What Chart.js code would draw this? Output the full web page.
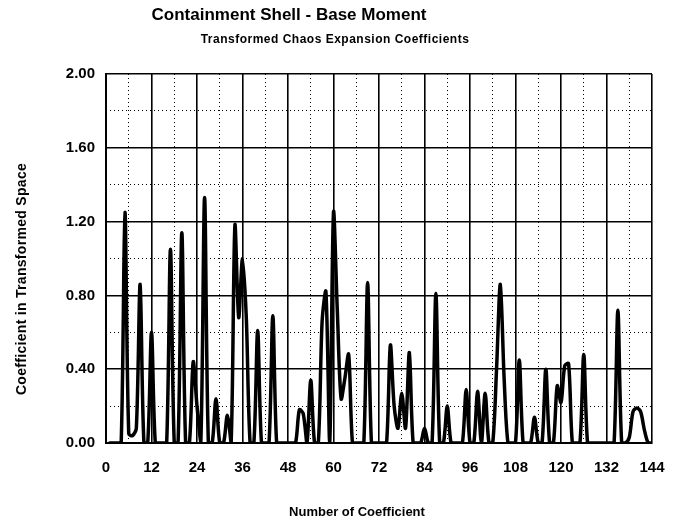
<!DOCTYPE html>
<html>
<head>
<meta charset="utf-8">
<title>Containment Shell - Base Moment</title>
<script src="https://cdn.jsdelivr.net/npm/chart.js@4.4.1/dist/chart.umd.min.js"></script>
<style>
    html, body { margin: 0; padding: 0; background: #fff; }
    #wrap { position: relative; width: 683px; height: 523px; }
</style>
</head>
<body>
<div id="wrap"><canvas id="chart"></canvas></div>
<script>
// ============================================
// DATA
// ============================================

const TITLE = 'Containment Shell - Base Moment';
const SUBTITLE = 'Transformed Chaos Expansion Coefficients';
const X_TITLE = 'Number of Coefficient';
const Y_TITLE = 'Coefficient in Transformed Space';

// coefficient number (x)
const coefNumbers = [
    1, 2, 3, 4, 5, 6, 7, 8, 9, 10, 11, 12,
    13, 14, 15, 16, 17, 18, 19, 20, 21, 22, 23, 24,
    25, 26, 27, 28, 29, 30, 31, 32, 33, 34, 35, 36,
    37, 38, 39, 40, 41, 42, 43, 44, 45, 46, 47, 48,
    49, 50, 51, 52, 53, 54, 55, 56, 57, 58, 59, 60,
    61, 62, 63, 64, 65, 66, 67, 68, 69, 70, 71, 72,
    73, 74, 75, 76, 77, 78, 79, 80, 81, 82, 83, 84,
    85, 86, 87, 88, 89, 90, 91, 92, 93, 94, 95, 96,
    97, 98, 99, 100, 101, 102, 103, 104, 105, 106, 107, 108,
    109, 110, 111, 112, 113, 114, 115, 116, 117, 118, 119, 120,
    121, 122, 123, 124, 125, 126, 127, 128, 129, 130, 131, 132,
    133, 134, 135, 136, 137, 138, 139, 140, 141, 142, 143, 144
];

// coefficient value in transformed space (y)
const coefValues = [
    0, 0, 0, 0, 1.25, 0.05, 0.04, 0.08, 0.86, 0, 0, 0.60,
    0, 0, 0, 0, 1.05, 0, 0, 1.14, 0, 0, 0.44, 0.20,
    0, 1.33, 0, 0, 0.24, 0, 0, 0.15, 0, 1.18, 0.68, 1.00,
    0.68, 0, 0, 0.61, 0, 0, 0, 0.69, 0, 0, 0, 0,
    0, 0, 0.18, 0.16, 0, 0.34, 0, 0, 0.66, 0.82, 0, 1.25,
    0.72, 0.24, 0.35, 0.48, 0, 0, 0, 0, 0.87, 0, 0, 0,
    0, 0, 0.53, 0.20, 0.08, 0.27, 0.08, 0.49, 0, 0, 0, 0.08,
    0, 0, 0.81, 0, 0, 0.20, 0, 0, 0, 0, 0.29, 0,
    0, 0.28, 0, 0.27, 0, 0, 0.40, 0.86, 0.35, 0, 0, 0,
    0.45, 0, 0, 0, 0.14, 0, 0, 0.40, 0, 0, 0.31, 0.22,
    0.42, 0.43, 0, 0, 0, 0.48, 0, 0, 0, 0, 0, 0,
    0, 0, 0.72, 0, 0, 0.03, 0.17, 0.19, 0.17, 0.07, 0, 0
];

// axis ranges / ticks
const X_MIN = 0, X_MAX = 144, X_MAJOR = 12, X_MINOR = 6;
const Y_MIN = 0, Y_MAX = 2, Y_MAJOR = 0.4, Y_MINOR = 0.2;

// ============================================
// CHART
// ============================================

const FONT = '"Liberation Sans", Arial, Helvetica, sans-serif';
const INK = '#000';

// titles are placed where they sit in the scan, not where Chart.js would center them
const captions = {
    id: 'captions',
    afterDraw(chart) {
        const ctx = chart.ctx;
        ctx.save();
        ctx.fillStyle = INK;
        ctx.textAlign = 'center';
        ctx.textBaseline = 'middle';

        ctx.font = 'bold 17px ' + FONT;
        ctx.fillText(TITLE, 289, 15);

        ctx.font = 'bold 12px ' + FONT;
        ctx.letterSpacing = '0.5px';
        ctx.fillText(SUBTITLE, 335, 40);

        ctx.font = 'bold 13px ' + FONT;
        ctx.letterSpacing = '0px';
        ctx.fillText(X_TITLE, 357, 512);

        ctx.translate(22, 279);
        ctx.rotate(-Math.PI / 2);
        ctx.font = 'bold 14px ' + FONT;
        ctx.letterSpacing = '0.3px';
        ctx.fillText(Y_TITLE, 0, 0);
        ctx.restore();
    }
};

const points = coefNumbers.map((n, i) => ({ x: n, y: coefValues[i] }));

const hidden = 'rgba(0,0,0,0)';
const isMajor = (v, step) => Math.abs(v / step - Math.round(v / step)) < 1e-6;

new Chart(document.getElementById('chart'), {
    type: 'line',
    data: {
        datasets: [{
            label: Y_TITLE,
            data: points,
            borderColor: INK,
            borderWidth: 3.5,
            borderJoinStyle: 'round',
            borderCapStyle: 'round',
            pointRadius: 0,
            fill: false,
            tension: 0.3,
            xAxisID: 'x',
            yAxisID: 'y'
        }]
    },
    options: {
        responsive: true,
        maintainAspectRatio: false,
        animation: false,
        layout: { padding: { top: 74, right: 31, left: 0, bottom: 0 } },
        plugins: {
            legend: { display: false },
            tooltip: { enabled: false }
        },
        scales: {
            x: {
                type: 'linear',
                position: 'bottom',
                min: X_MIN, max: X_MAX,
                afterFit: s => { s.height = 80; },
                ticks: {
                    stepSize: X_MAJOR,
                    color: INK,
                    padding: 16,
                    font: { family: FONT, size: 15, weight: 'bold' }
                },
                grid: { color: INK, lineWidth: 1.6, drawTicks: false },
                border: { display: true, color: INK, width: 2 }
            },
            xMinor: {
                type: 'linear',
                position: 'bottom',
                min: X_MIN, max: X_MAX,
                afterFit: s => { s.height = 0; },
                ticks: { display: false, stepSize: X_MINOR },
                grid: {
                    color: c => isMajor(c.tick.value, X_MAJOR) ? hidden : INK,
                    lineWidth: 1,
                    drawTicks: false,
                    borderDash: [1, 3]
                },
                border: { display: false, dash: [1, 3] }
            },
            y: {
                type: 'linear',
                position: 'left',
                min: Y_MIN, max: Y_MAX,
                afterFit: s => { s.width = 106; },
                ticks: {
                    stepSize: Y_MAJOR,
                    color: INK,
                    padding: 11,
                    font: { family: FONT, size: 15, weight: 'bold' },
                    callback: v => v.toFixed(2)
                },
                grid: { color: INK, lineWidth: 1.6, drawTicks: false },
                border: { display: true, color: INK, width: 2 }
            },
            yMinor: {
                type: 'linear',
                position: 'left',
                min: Y_MIN, max: Y_MAX,
                afterFit: s => { s.width = 0; },
                ticks: { display: false, stepSize: Y_MINOR },
                grid: {
                    color: c => isMajor(c.tick.value, Y_MAJOR) ? hidden : INK,
                    lineWidth: 1,
                    drawTicks: false,
                    borderDash: [1, 3]
                },
                border: { display: false, dash: [1, 3] }
            }
        }
    },
    plugins: [captions]
});
</script>
</body>
</html>
